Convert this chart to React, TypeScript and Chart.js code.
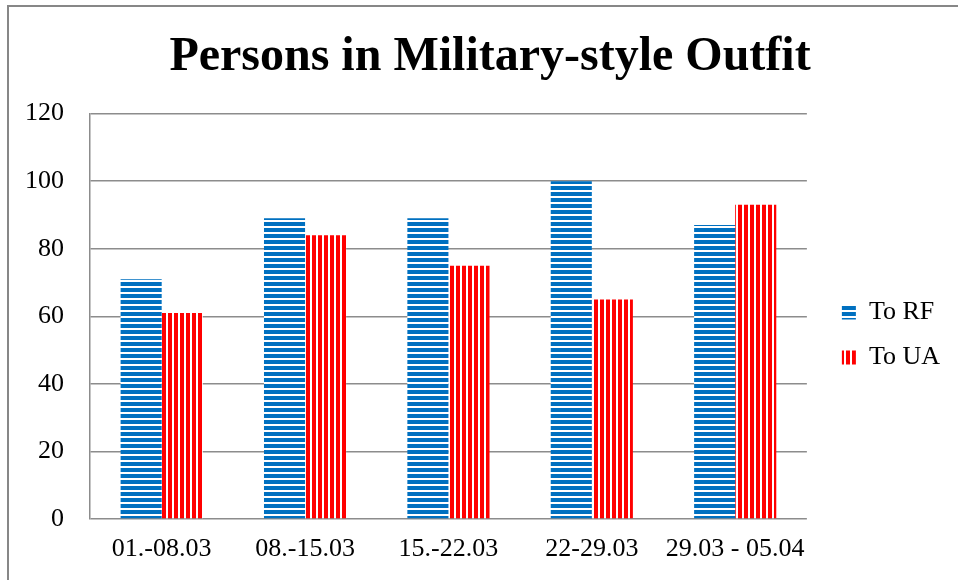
import React, { useEffect, useRef } from "react";
import { Chart, registerables } from "chart.js";

Chart.register(...registerables);

const titleText = "Persons in Military-style Outfit";
const categories = ["01.-08.03", "08.-15.03", "15.-22.03", "22-29.03", "29.03 - 05.04"];
const seriesNames = ["To RF", "To UA"];
const toRF = [71, 89, 89, 100, 87];
const toUA = [61, 84, 75, 65, 93];
const yMin = 0;
const yMax = 120;
const yStep = 20;

const FONT = "'Liberation Serif', 'Times New Roman', serif";

function makePattern(ctx: CanvasRenderingContext2D, kind: "h" | "v"): CanvasPattern | string {
  const c = document.createElement("canvas");
  c.width = 6;
  c.height = 6;
  const g = c.getContext("2d");
  if (!g) return kind === "h" ? "#0070C0" : "#FF0000";
  g.fillStyle = "#ffffff";
  g.fillRect(0, 0, 6, 6);
  if (kind === "h") {
    g.fillStyle = "#0070C0";
    g.fillRect(0, 0, 6, 4);
  } else {
    g.fillStyle = "#FF0000";
    g.fillRect(0, 0, 4, 6);
  }
  return ctx.createPattern(c, "repeat") || (kind === "h" ? "#0070C0" : "#FF0000");
}

const framePlugin = {
  id: "frame",
  beforeDraw(chart: any) {
    const ctx = chart.ctx;
    ctx.save();
    ctx.fillStyle = "#ffffff";
    ctx.fillRect(0, 0, chart.width, chart.height);
    ctx.fillStyle = "#878787";
    ctx.fillRect(7, 5, chart.width - 7, 2);
    ctx.fillRect(7, 5, 2, chart.height - 5);
    ctx.restore();
  },
};

const boxShift = {
  id: "boxShift",
  afterLayout(chart: any) {
    const lg = chart.legend;
    if (lg) {
      const dx = 16;
      const dy = 45;
      lg.left += dx;
      lg.right += dx;
      lg.top += dy;
      lg.bottom += dy;
    }
    const tb = chart.titleBlock;
    if (tb) {
      const tx = 23;
      tb.left += tx;
      tb.right += tx;
    }
  },
};

export default function App() {
  const ref = useRef<HTMLCanvasElement | null>(null);

  useEffect(() => {
    document.body.style.margin = "0";
    const canvas = ref.current;
    if (!canvas) return;
    const ctx = canvas.getContext("2d");
    if (!ctx) return;
    const blue = makePattern(ctx, "h");
    const red = makePattern(ctx, "v");

    const chart = new Chart(ctx, {
      type: "bar",
      data: {
        labels: categories,
        datasets: [
          {
            label: seriesNames[0],
            data: toRF,
            backgroundColor: blue as any,
            borderWidth: 0,
            categoryPercentage: 0.573,
            barPercentage: 1,
          },
          {
            label: seriesNames[1],
            data: toUA,
            backgroundColor: red as any,
            borderWidth: 0,
            categoryPercentage: 0.573,
            barPercentage: 1,
          },
        ],
      },
      options: {
        animation: false,
        responsive: false,
        devicePixelRatio: 1,
        layout: { padding: { left: 0, right: 24, top: 0, bottom: 0 } },
        plugins: {
          title: {
            display: true,
            text: titleText,
            color: "#000000",
            font: { family: FONT, size: 48, weight: "bold" },
            padding: { top: 29, bottom: 27 },
          },
          legend: {
            display: true,
            position: "right",
            labels: {
              color: "#000000",
              font: { family: FONT, size: 26 },
              boxWidth: 14,
              boxHeight: 14,
              padding: 19,
            },
          },
          tooltip: { enabled: false },
        },
        scales: {
          x: {
            grid: { display: false, drawTicks: false },
            border: { display: false },
            ticks: {
              color: "#000000",
              font: { family: FONT, size: 26 },
              padding: 15,
              maxRotation: 0,
              autoSkip: false,
            },
            afterFit(scale: any) {
              scale.height = 61;
            },
          },
          y: {
            min: yMin,
            max: yMax,
            grid: { color: "#8c8c8c", lineWidth: 1.5, drawTicks: false },
            border: { display: true, color: "#8c8c8c", width: 1.5 },
            ticks: {
              stepSize: yStep,
              color: "#000000",
              font: { family: FONT, size: 26 },
              padding: 26,
            },
            afterFit(scale: any) {
              scale.width = 90;
            },
          },
        },
      },
      plugins: [framePlugin, boxShift],
    });

    return () => {
      chart.destroy();
    };
  }, []);

  return (
    <div style={{ width: 958, height: 580 }}>
      <canvas ref={ref} width={958} height={580} style={{ display: "block", width: 958, height: 580 }} />
    </div>
  );
}
